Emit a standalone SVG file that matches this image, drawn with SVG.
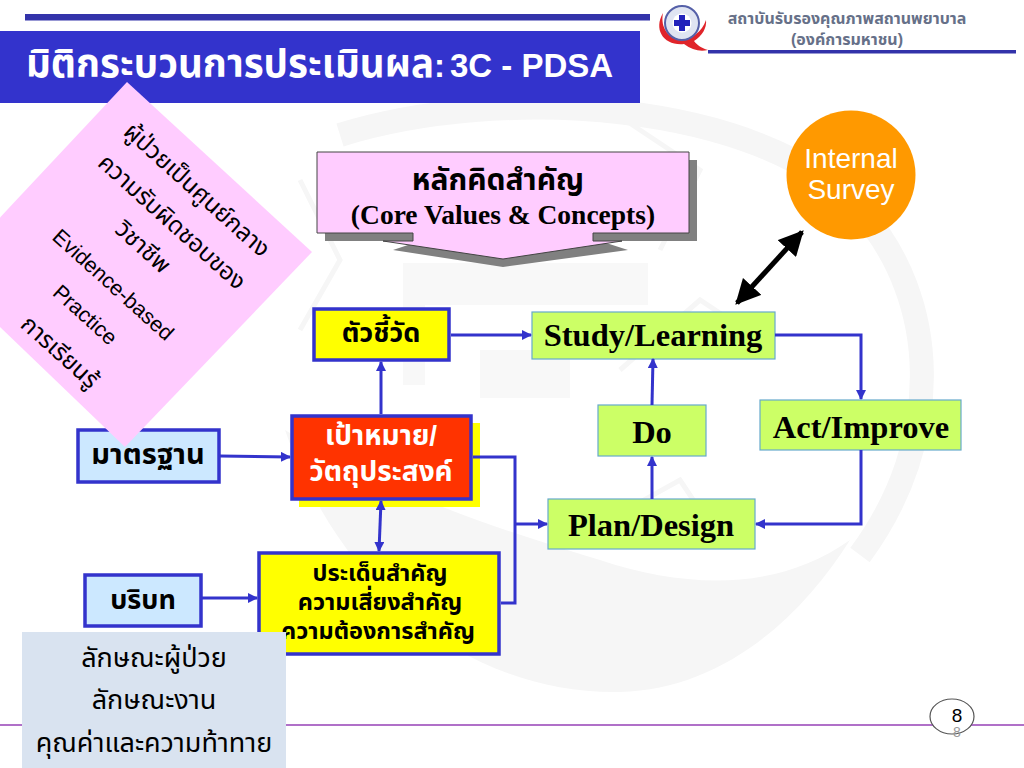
<svg xmlns="http://www.w3.org/2000/svg" width="1024" height="768" viewBox="0 0 1024 768">
<style>
.th{font-family:"Liberation Sans","Noto Sans Thai","Noto Sans","DejaVu Sans",sans-serif}
.b{font-weight:700}
.m{text-anchor:middle}
.ser{font-family:"Liberation Serif",serif;font-weight:700;fill:#000;text-anchor:middle}
.node{stroke:#3333cc;stroke-width:3.5}
.grn{fill:#ccff66;stroke:#66aacc;stroke-width:1.2}
.con{fill:none;stroke:#3333cc;stroke-width:3}
.wm{fill:none;stroke:#f6f6f6}
</style>
<defs>
<marker id="a" viewBox="0 0 10 10" refX="9" refY="5" markerWidth="3.4" markerHeight="3.4" orient="auto-start-reverse"><path d="M0 0L10 5L0 10z" fill="#3333cc"/></marker>
<marker id="k" viewBox="0 0 10 10" refX="9" refY="5" markerWidth="5" markerHeight="5" orient="auto-start-reverse"><path d="M0 0L10 5L0 10z" fill="#000"/></marker>
</defs>
<rect width="1024" height="768" fill="#fff"/>
<g id="watermark">
<path class="wm" stroke-width="24" d="M340 135C500 85 760 100 860 210C940 300 945 440 860 555"/>
<path d="M285 430C340 590 470 695 620 692C720 690 800 620 850 540C780 590 690 590 600 560C500 530 380 490 285 430z" fill="#f6f6f6"/>
<path d="M403 263H648V305H425V385H403zM480 350H570V398H480z" fill="#f8f8f8"/>
<path class="wm" stroke-width="5" d="M610 110L700 170L660 250M620 370L700 300L760 340M590 530L680 480L720 540M300 180L340 260L300 330"/>
</g>
<g id="header">
<rect x="25" y="14" width="625" height="6.500" fill="#3333aa"/>
<rect x="708" y="50" width="308" height="3.500" fill="#3333aa"/>
<text class="th b m" x="847" y="24" font-size="16" fill="#667088">สถาบันรับรองคุณภาพสถานพยาบาล</text>
<text class="th b m" x="847" y="45" font-size="16" fill="#667088">(องค์การมหาชน)</text>
</g>
<g id="logo">
<path d="M663 13C653 30 664 46 684 44C692 50 700 52 708 50C701 48 697 45 694 41C702 36 707 28 706 20C702 32 692 39 681 39C669 39 660 28 663 13z" fill="#e0242a"/>
<circle cx="682" cy="23" r="17" fill="#dfe4f2" stroke="#5560a8" stroke-width="2"/>
<circle cx="682" cy="23" r="9.500" fill="#fff"/>
<path d="M679 15h6v5h5v6h-5v5h-6v-5h-5v-6h5z" fill="#2222bb"/>
</g>
<g id="title">
<rect x="0" y="31" width="640" height="72" fill="#3333cc"/>
<text class="th b" x="26" y="77" font-size="38.500" fill="#fff">มิติกระบวนการประเมินผล<tspan font-size="33">:</tspan><tspan font-size="33" x="450">3C - PDSA</tspan></text>
</g>
<g id="core">
<path d="M325 233H413V241H325zM593 160H697V241H593z" fill="#808080"/>
<path d="M393 250L503 267L628 250L600 241H420z" fill="#808080"/>
<path d="M317 152H689V233H593V241H622L503 259L383 241H413V233H317z" fill="#ffccff" stroke="#444" stroke-width="1"/>
<text class="th b m" x="498" y="190" font-size="30" fill="#000">หลักคิดสำคัญ</text>
<text class="ser" x="503" y="224" font-size="27.500">(Core Values &amp; Concepts)</text>
</g>
<g id="survey">
<circle cx="851" cy="175" r="64.500" fill="#ff9900"/>
<text x="851" y="168" font-size="28" fill="#fff" text-anchor="middle" font-family="Liberation Sans, sans-serif">Internal</text>
<text x="851" y="199" font-size="28" fill="#fff" text-anchor="middle" font-family="Liberation Sans, sans-serif">Survey</text>
</g>
<g id="indicator">
<rect class="node" x="314" y="309" width="135" height="51" fill="#ffff00"/>
<text class="th b m" x="381" y="342" font-size="27" fill="#000">ตัวชี้วัด</text>
</g>
<g id="goal">
<rect x="299" y="423" width="181" height="84" fill="#ffff00"/>
<rect class="node" x="292" y="416" width="179" height="83" fill="#ff3300"/>
<text class="th b m" x="381" y="445" font-size="28" fill="#fff">เป้าหมาย/</text>
<text class="th b m" x="381" y="481" font-size="28" fill="#fff">วัตถุประสงค์</text>
</g>
<g id="standard">
<rect class="node" x="78" y="430" width="141" height="52" fill="#cce8ff"/>
<text class="th b m" x="148" y="464" font-size="29" fill="#000">มาตรฐาน</text>
</g>
<g id="context">
<rect class="node" x="85" y="575" width="116" height="51" fill="#cce8ff"/>
<text class="th b m" x="143" y="609" font-size="27" fill="#000">บริบท</text>
</g>
<g id="issues">
<rect class="node" x="259" y="553" width="240" height="101" fill="#ffff00"/>
<text class="th b m" x="380" y="581" font-size="23.500" fill="#000">ประเด็นสำคัญ</text>
<text class="th b m" x="380" y="610" font-size="23.500" fill="#000">ความเสี่ยงสำคัญ</text>
<text class="th b m" x="378" y="639" font-size="23.500" fill="#000">ความต้องการสำคัญ</text>
</g>
<g id="study"><rect class="grn" x="532" y="312" width="243" height="47"/><text class="ser" x="653" y="346" font-size="32.500">Study/Learning</text></g>
<g id="do"><rect class="grn" x="598" y="405" width="108" height="51"/><text class="ser" x="652" y="443" font-size="32.500">Do</text></g>
<g id="act"><rect class="grn" x="760" y="400" width="201" height="50"/><text class="ser" x="861" y="438" font-size="32.500">Act/Improve</text></g>
<g id="plan"><rect class="grn" x="548" y="499" width="207" height="50"/><text class="ser" x="651" y="536" font-size="32.500">Plan/Design</text></g>
<g id="connectors">
<path class="con" marker-end="url(#a)" d="M451 335H531"/>
<path class="con" marker-end="url(#a)" d="M381 414V362"/>
<path class="con" marker-end="url(#a)" d="M220 456L290 457"/>
<path class="con" marker-start="url(#a)" marker-end="url(#a)" d="M381 501L379 551"/>
<path class="con" marker-end="url(#a)" d="M202 598H257"/>
<path class="con" d="M473 457H515V603H501"/>
<path class="con" marker-end="url(#a)" d="M515 524H547"/>
<path class="con" marker-end="url(#a)" d="M775 335H861V399"/>
<path class="con" marker-end="url(#a)" d="M861 450V524H756"/>
<path class="con" marker-end="url(#a)" d="M652 499V457"/>
<path class="con" marker-end="url(#a)" d="M652 405L653 359"/>
<path fill="none" stroke="#000" stroke-width="5" marker-start="url(#k)" marker-end="url(#k)" d="M737 303L802 232"/>
</g>
<g id="footer">
<rect x="0" y="724" width="1024" height="2" fill="#b070c8"/>
<ellipse cx="952" cy="716.500" rx="22" ry="17.500" fill="#fff" stroke="#555" stroke-width="1.200"/>
<text x="957" y="722" font-size="19" text-anchor="middle" fill="#000" font-family="Liberation Sans, sans-serif">8</text>
<text x="957" y="737" font-size="14" text-anchor="middle" fill="#999" font-family="Liberation Sans, sans-serif">8</text>
</g>
<g id="values">
<path d="M127 82L312 252L125 447L-54 275z" fill="#ffccff"/>
<g class="th m" font-size="24" fill="#000">
<text transform="translate(197 190) rotate(42)" y="8">ผู้ป่วยเป็นศูนย์กลาง</text>
<text transform="translate(172 222) rotate(42)" y="8">ความรับผิดชอบของ</text>
<text transform="translate(143 247) rotate(42)" y="8">วิชาชีพ</text>
<text transform="translate(113 285) rotate(42)" y="7" font-size="21.500">Evidence-based</text>
<text transform="translate(85 315) rotate(42)" y="7" font-size="21.500">Practice</text>
<text transform="translate(60 352) rotate(42)" y="8">การเรียนรู้</text>
</g>
</g>
<g id="traits">
<rect x="22" y="632" width="264" height="136" fill="#d9e3f0"/>
<text class="th m" x="154" y="667" font-size="27" fill="#000">ลักษณะผู้ป่วย</text>
<text class="th m" x="154" y="709" font-size="27" fill="#000">ลักษณะงาน</text>
<text class="th m" x="154" y="752" font-size="27" fill="#000">คุณค่าและความท้าทาย</text>
</g>
</svg>
